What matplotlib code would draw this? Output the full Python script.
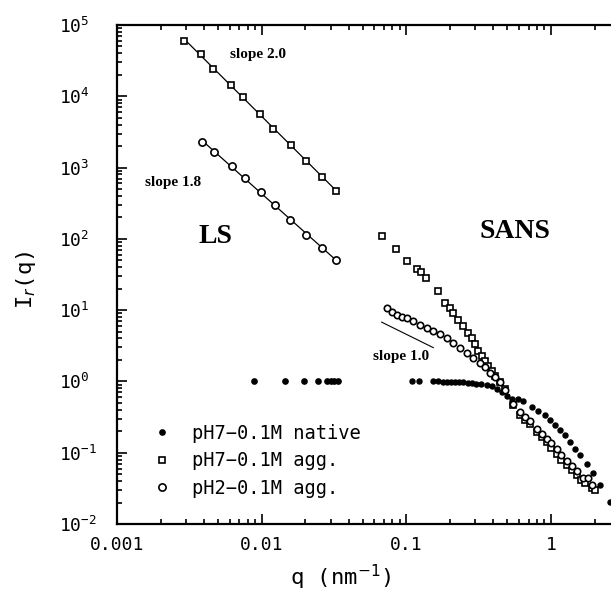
# Scattered intensity I_r(q) of native and aggregated protein, LS and SANS ranges

import numpy as np
import matplotlib
matplotlib.use('Agg')
import matplotlib.pyplot as plt
from matplotlib.ticker import FixedLocator, FixedFormatter, LogLocator, NullFormatter

# --- light scattering (LS) range ---
q_ls_native = [0.00877, 0.0144, 0.0195, 0.0243, 0.0284, 0.0302, 0.0317, 0.0335]
I_ls_native = [1.0, 1.0, 1.0, 1.0, 1.0, 1.0, 1.0, 1.0]

q_ls_ph7 = [0.0029, 0.00379, 0.00461, 0.00611, 0.00743, 0.00975, 0.0120, 0.0158, 0.0203, 0.0261, 0.0327]
I_ls_ph7 = [60400, 39400, 24200, 14300, 9840, 5580, 3420, 2065, 1225, 746, 476]

q_ls_ph2 = [0.00384, 0.00467, 0.00621, 0.00764, 0.00986, 0.0124, 0.0156, 0.0203, 0.0261, 0.0327]
I_ls_ph2 = [2296, 1665, 1063, 717, 453, 295, 184, 115, 74.2, 50.5]

# --- neutron scattering (SANS) range ---
q_sans_native = [0.110, 0.122, 0.153, 0.165, 0.178, 0.190, 0.203, 0.215, 0.230, 0.247,
                 0.265, 0.285, 0.305, 0.330, 0.358, 0.390, 0.420, 0.460, 0.500, 0.540,
                 0.590, 0.642, 0.734, 0.816, 0.907, 0.983, 1.064, 1.152, 1.248, 1.351,
                 1.463, 1.585, 1.763, 1.958, 2.179, 2.555]
I_sans_native = [1.02, 1.02, 1.0, 1.0, 0.99, 0.98, 0.99, 0.97, 0.98, 0.97,
                 0.95, 0.94, 0.93, 0.91, 0.89, 0.85, 0.79, 0.70, 0.62, 0.57,
                 0.56, 0.538, 0.444, 0.382, 0.333, 0.284, 0.2415, 0.2056, 0.175, 0.141,
                 0.114, 0.0923, 0.0705, 0.0512, 0.0352, 0.0206]

q_sans_ph7 = [0.0674, 0.0842, 0.1013, 0.1188, 0.126, 0.1358, 0.166, 0.1846, 0.200, 0.2108,
              0.2282, 0.247, 0.2676, 0.2825, 0.2977, 0.3137, 0.3312, 0.349, 0.3679, 0.3884,
              0.4093, 0.4432, 0.480, 0.545, 0.6095, 0.660, 0.7146, 0.795, 0.860, 0.932,
              1.0, 1.093, 1.18, 1.282, 1.39, 1.503, 1.60, 1.715, 1.909, 2.012]
I_sans_ph7 = [110, 71.2, 49.5, 37.8, 34.8, 28.1, 18.7, 12.6, 10.7, 9.14,
              7.37, 5.97, 4.81, 4.10, 3.31, 2.68, 2.28, 1.94, 1.66, 1.41,
              1.20, 0.968, 0.781, 0.47, 0.336, 0.29, 0.252, 0.195, 0.165, 0.141,
              0.118, 0.0972, 0.080, 0.067, 0.057, 0.0486, 0.042, 0.0372, 0.0316, 0.030]

q_sans_ph2 = [0.0729, 0.079, 0.0855, 0.0926, 0.1003, 0.1114, 0.124, 0.138, 0.1532, 0.1704,
              0.1897, 0.2108, 0.2344, 0.2608, 0.2897, 0.3223, 0.349, 0.378, 0.4093, 0.4432,
              0.480, 0.545, 0.6095, 0.66, 0.7146, 0.795, 0.86, 0.932, 1.0, 1.093,
              1.18, 1.282, 1.39, 1.503, 1.662, 1.80, 1.909]
I_sans_ph2 = [10.7, 9.35, 8.66, 8.04, 7.79, 7.0, 6.28, 5.65, 5.08, 4.56,
              4.01, 3.49, 2.98, 2.54, 2.16, 1.84, 1.57, 1.33, 1.14, 0.97,
              0.75, 0.479, 0.37, 0.32, 0.277, 0.214, 0.185, 0.156, 0.135, 0.113,
              0.093, 0.0769, 0.065, 0.0558, 0.0446, 0.0436, 0.0352]

# guide line of slope 1.0 in the SANS range
q_guide = [0.0674, 0.1532]
I_guide = [6.78, 2.98]

legend_labels = ['pH7\u22120.1M native', 'pH7\u22120.1M agg.', 'pH2\u22120.1M agg.']
x_tick_values = [0.001, 0.01, 0.1, 1]
x_tick_labels = ['0.001', '0.01', '0.1', '1']
y_tick_values = [1e-2, 1e-1, 1e0, 1e1, 1e2, 1e3, 1e4, 1e5]


def power_law_fit(q, I):
    """Straight line in log-log space through the LS points."""
    slope, icpt = np.polyfit(np.log10(q), np.log10(I), 1)
    qq = np.array([min(q), max(q)])
    return qq, 10 ** (icpt + slope * np.log10(qq))


def main():
    plt.rcParams['font.family'] = ['DejaVu Sans Mono']
    plt.rcParams['mathtext.fontset'] = 'dejavusans'

    fig = plt.figure(figsize=(6.11, 5.92), dpi=100)
    ax = fig.add_axes([0.192, 0.1149, 0.808, 0.8429])

    # LS curves with their fitted power laws
    for q, I, mk, ms, lab in [(q_ls_ph7, I_ls_ph7, 's', 5.0, legend_labels[1]),
                              (q_ls_ph2, I_ls_ph2, 'o', 5.2, legend_labels[2])]:
        qq, fit = power_law_fit(q, I)
        ax.plot(qq, fit, color='black', lw=0.9)
        ax.plot(q, I, ls='none', marker=mk, ms=ms, mfc='white', mec='black', mew=1.2, label=lab)
    ax.plot(q_ls_native, I_ls_native, ls='none', marker='o', ms=3.8, color='black',
            label=legend_labels[0])

    # SANS curves
    ax.plot(q_sans_native, I_sans_native, ls='none', marker='o', ms=3.6, color='black')
    ax.plot(q_sans_ph7, I_sans_ph7, ls='none', marker='s', ms=4.3, mfc='white', mec='black', mew=1.2)
    ax.plot(q_sans_ph2, I_sans_ph2, ls='none', marker='o', ms=4.6, mfc='white', mec='black', mew=1.2)
    ax.plot(q_guide, I_guide, color='black', lw=0.8)

    ax.set_xscale('log')
    ax.set_yscale('log')
    ax.set_xlim(0.001, 2.6)
    ax.set_ylim(1e-2, 1e5)

    ax.xaxis.set_major_locator(FixedLocator(x_tick_values))
    ax.xaxis.set_major_formatter(FixedFormatter(x_tick_labels))
    ax.xaxis.set_minor_locator(LogLocator(base=10, subs=np.arange(2, 10), numticks=20))
    ax.xaxis.set_minor_formatter(NullFormatter())
    ax.yaxis.set_major_locator(FixedLocator(y_tick_values))
    ax.yaxis.set_minor_locator(LogLocator(base=10, subs=np.arange(2, 10), numticks=20))
    ax.yaxis.set_minor_formatter(NullFormatter())

    ax.tick_params(which='both', direction='in', top=True, right=False, width=1.2, labelsize=13)
    ax.tick_params(which='major', length=7)
    ax.tick_params(which='minor', length=3.5)
    ax.tick_params(axis='y', pad=42)
    ax.tick_params(axis='x', pad=9)
    for lab in ax.get_yticklabels():
        lab.set_horizontalalignment('left')
    for side in ['left', 'bottom', 'top']:
        ax.spines[side].set_linewidth(1.6)
    ax.spines['right'].set_visible(False)

    ax.set_xlabel('q (nm$^{-1}$)', fontsize=16)
    ax.set_ylabel('I$_r$(q)', fontsize=16)
    ax.xaxis.set_label_coords(0.453, -0.078)
    ax.yaxis.set_label_coords(-0.16, 0.49)

    # annotations
    serif = dict(family='Liberation Serif', weight='bold', ha='center', va='center',
                 transform=ax.transAxes)
    ax.text(0.284, 0.940, 'slope 2.0', fontsize=11, **serif)
    ax.text(0.112, 0.684, 'slope 1.8', fontsize=11, **serif)
    ax.text(0.574, 0.335, 'slope 1.0', fontsize=11, **serif)
    ax.text(0.198, 0.577, 'LS', fontsize=20, **serif)
    ax.text(0.8055, 0.586, 'SANS', fontsize=20, **serif)

    handles, labels = ax.get_legend_handles_labels()
    order = [labels.index(l) for l in legend_labels]
    ax.legend([handles[i] for i in order], [labels[i] for i in order],
              loc='center left', bbox_to_anchor=(0.2493, 0.2218), bbox_transform=fig.transFigure,
              frameon=False, fontsize=13.5, handlelength=1.0, handletextpad=1.1,
              labelspacing=0.45, borderpad=0, borderaxespad=0)

    fig.savefig('out.png', dpi=100)


if __name__ == "__main__":
    main()
